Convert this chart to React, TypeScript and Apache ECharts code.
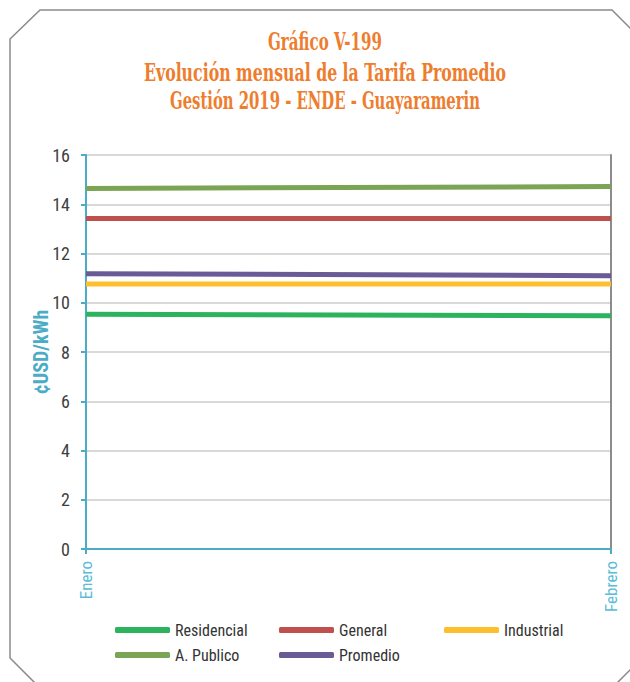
import React, { useEffect, useRef } from "react";
import * as echarts from "echarts";

const categories = ["Enero", "Febrero"];
const seriesNames = ["Residencial", "General", "Industrial", "A. Publico", "Promedio"];
const residencial = [9.53, 9.47];
const general = [13.42, 13.42];
const industrial = [10.76, 10.76];
const aPublico = [14.64, 14.72];
const promedio = [11.18, 11.1];
const seriesColors = ["#2BB35E", "#C0504D", "#FDBF2D", "#7BA555", "#6A5A96"];
const titleLines = [
  "Gráfico V-199",
  "Evolución mensual de la Tarifa Promedio",
  "Gestión 2019 - ENDE - Guayaramerin",
];
const yAxisName = "¢USD/kWh";

const NARROW = "'Liberation Sans Narrow', 'Roboto Condensed', 'DejaVu Sans Condensed', sans-serif";
const TITLE_FONT_FAMILY = "'DejaVu Serif Condensed', 'DejaVu Serif', serif";
const AXIS_BLUE = "#4BACC6";

function measure(text: string, font: string): number {
  const c = document.createElement("canvas");
  const ctx = c.getContext("2d");
  if (!ctx) return 0;
  ctx.font = font;
  return ctx.measureText(text).width;
}

export default function App() {
  const ref = useRef<HTMLDivElement>(null);
  useEffect(() => {
    if (!ref.current) return;
    const chart = echarts.init(ref.current, null, { renderer: "svg" });
    const values = [residencial, general, industrial, aPublico, promedio];

    const titleFontSize = 24;
    const titleFont = `bold ${titleFontSize}px ${TITLE_FONT_FAMILY}`;
    const titleTargets = [114, 362, 310];
    const titleY = [42, 72, 101];
    const titleGraphics = titleLines.map((t, i) => {
      const w = measure(t, titleFont);
      const s = w > 0 ? titleTargets[i] / w : 1;
      return {
        type: "text",
        x: 325,
        y: titleY[i],
        scaleX: s,
        style: {
          text: t,
          fill: "#EE7D2E",
          font: titleFont,
          align: "center",
          verticalAlign: "middle",
        },
      };
    });

    const legendLefts = [115, 279, 444, 115, 279];
    const legendTops = [622, 622, 622, 647, 647];

    chart.setOption({
      animation: false,
      backgroundColor: "#ffffff",
      graphic: [
        {
          type: "polygon",
          shape: {
            points: [
              [10, 39], [40, 10], [612, 10], [650, 48],
              [650, 650], [612, 688], [40, 688], [10, 658],
            ],
          },
          style: { fill: "none", stroke: "#8A8A8A", lineWidth: 1.5 },
          silent: true,
        },
        ...titleGraphics,
      ],
      legend: seriesNames.map((n, i) => ({
        data: [n],
        left: legendLefts[i],
        top: legendTops[i],
        padding: 0,
        icon: "roundRect",
        itemWidth: 55,
        itemHeight: 6,
        itemStyle: { borderWidth: 0 },
        selectedMode: false,
        textStyle: { fontFamily: NARROW, fontSize: 16, color: "#333333" },
      })),
      grid: { left: 86, right: 19, top: 155, bottom: 133, containLabel: false },
      xAxis: {
        type: "category",
        data: categories,
        boundaryGap: false,
        axisLine: { show: true, lineStyle: { color: AXIS_BLUE, width: 2 } },
        axisTick: { show: true, length: 5, lineStyle: { color: AXIS_BLUE, width: 2 } },
        axisLabel: {
          rotate: 90,
          margin: 12,
          color: "#5BBCD6",
          fontFamily: NARROW,
          fontSize: 17,
        },
        splitLine: { show: false },
      },
      yAxis: [
        {
          type: "value",
          min: 0,
          max: 16,
          interval: 2,
          name: yAxisName,
          nameLocation: "middle",
          nameGap: 35,
          nameMoveOverlap: false,
          nameTextStyle: {
            color: AXIS_BLUE,
            fontWeight: "bold",
            fontFamily: NARROW,
            fontSize: 20,
          },
          axisLine: { show: true, lineStyle: { color: AXIS_BLUE, width: 2 } },
          axisTick: { show: true, length: 5, lineStyle: { color: AXIS_BLUE, width: 2 } },
          axisLabel: { margin: 16, color: "#404040", fontFamily: NARROW, fontSize: 18 },
          splitLine: { show: true, lineStyle: { color: "#D9D9D9", width: 2 } },
        },
        {
          type: "value",
          min: 0,
          max: 16,
          interval: 2,
          position: "right",
          axisLine: { show: true, lineStyle: { color: "#8C8C8C", width: 2 } },
          axisTick: { show: false },
          axisLabel: { show: false },
          splitLine: { show: false },
        },
      ],
      series: seriesNames.map((n, i) => ({
        name: n,
        type: "line",
        data: values[i],
        yAxisIndex: 0,
        symbol: "none",
        lineStyle: { color: seriesColors[i], width: 5 },
        itemStyle: { color: seriesColors[i] },
      })),
    });
    return () => chart.dispose();
  }, []);
  return <div ref={ref} style={{ width: 630, height: 682, position: "absolute", left: 0, top: 0 }} />;
}
